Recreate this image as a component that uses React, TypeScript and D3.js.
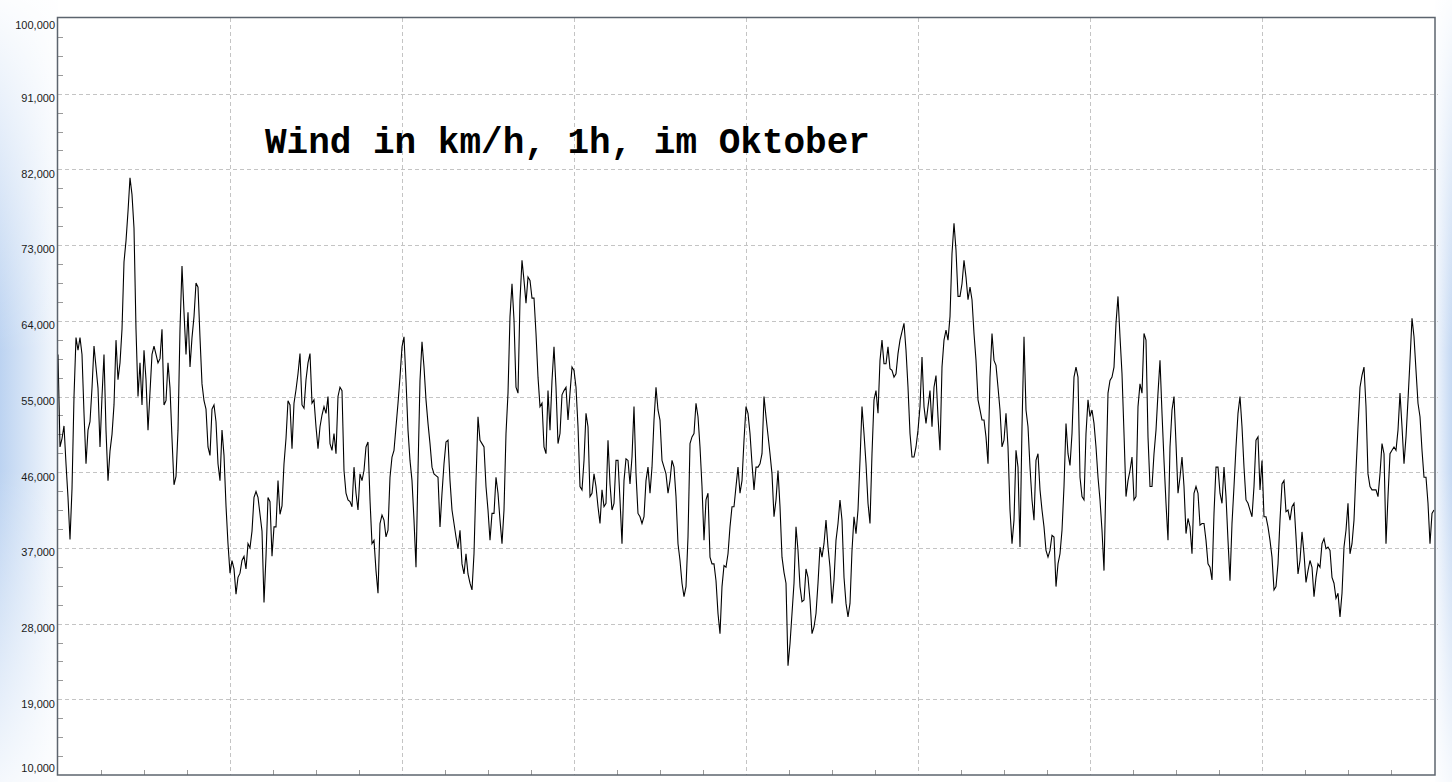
import React from "react";
import * as d3 from "d3";

// Wind speed readings (in thousands, as shown on the axis)
const seg1 = [60,49,50,51.5,47,43,38,44,55,62,60.5,62,60,53,47,51,52,56,61,58.5,56,49,55,60,51,45,48.5,50.5,54,61.7,57,59,63,71,73.5,77,81,79,75,63,55,59,54,60.5,57,51,55.5,60,61,60,59,59.5,63,54,54.5,59,56,50,44.5,45.5,51,63,70.5,65,60,65,58.5,62,64.5,68.5,68,62,56.5,54.5,53.5,49,48,53.5,54,52,47,45,51,48,42,37.5,34,35.5,34.5,31.5,33.5,34,35.5,36,34.5,37.5,37,39,43,43.7,43,41,39,30.5,36,43,42.5,36,39.5,39.5,45,41,42,47,50,54.5,54];
const seg2 = [48.8,54.2,55.8,57.7,60.1,54,53.6,57,59,60.1,54.2,54.6,51.4,48.8,51.4,52.8,53.8,53,55,49.4,48.6,50.6,48.2,55,56.1,55.7,46.2,43.5,42.7,42.5,41.9,46.6,43.5,41.5,45.8,45,46.2,49,49.6,42.7,37.5,37.9,34.3,31.6,39.9,40.9,40.3,38.3,39.1,45.4,47.8,48.6,51.4,54.2,57.3,60.9,62.1,56.9,51,47.4,45,40.3,34.7,46.2,56.9,61.5,58.5,54.6,51.8,49.4,46.6,45.8,45.6,45.4,39.5,43.5,47,49.6,49.8,45,41.5,39.9,38.3,36.9,39.1,35.1,33.9,36.3,33.9,32.8,32,36.3,45,52.6,49.8,49.4,49,44.3,41.5,37.9,41.1,41.1,45.4,43.5,40.3,37.5,41.5,50.6,55.4,64.5,68.4,64.1,56.1,55.4,66.5];
const seg3 = [71.2,68.8,66.1,69.2,68.8,66.7,66.7,62.5,57.3,53.8,54.2,49,48.2,55.7,51,56.9,60.9,56.1,49.4,50.6,55.2,55.7,56.1,52.2,55.4,58.5,58.1,56.1,51.4,44.3,43.9,47.4,53,51.4,43.1,43.5,45.8,44.3,41.9,39.9,43.9,41.9,42.3,49.8,44.6,41.5,42.3,47.4,47.4,42.7,37.5,45,47.6,47.4,44.6,47.8,53.8,45.8,41.1,40.7,39.9,40.7,45,46.6,43.5,46.6,52.2,56.1,53.4,52.2,47.4,46.6,45.8,43.5,45,47.4,46.6,43.1,37.5,35.5,32.8,31.2,32.4,38.3,49.4,50.2,50.6,54.2,52.6,49,44.3,37.9,42.7,43.5,35.9,35.1,35.1,33.1,29.2,26.8,32.4,34.9,34.7,36.3,39.5,41.9,41.9,44.3,46.6,43.5,45,49.8,53.8,53,50.6];
const seg4 = [47,43.9,46.6,46.6,47,48.2,55,52.6,50.4,48.2,45.8,40.7,42.7,46.2,41.9,35.9,34.1,32.8,23,25.6,29.2,32.8,39.5,36.7,32.4,30.6,30.8,34.5,33.5,30.8,26.8,27.6,29.2,32.8,37.1,35.9,37.5,40.3,37.1,34.7,30.4,33.2,37.9,39.9,42.7,40.3,33.5,30.4,28.8,30.4,36.7,40.7,38.7,41.5,47.4,53.8,50.6,47,42.3,39.9,48.2,54.6,55.7,53,59.3,61.7,58.9,58.9,60.9,58.3,58.1,57.3,57.7,60.1,61.7,62.7,63.7,60.5,56.1,50.6,47.8,47.8,49,51,53.8,59.7,53.8,51.8,53.8,55.7,51.4,56.1,57.5,52.6,48.6,58.5,61.7,62.9,61.7,64.5,72,75.6,72.4,66.9,66.9,68.4,71.2,69.2,66.5,68,66.5,62.5,59.3,54.6,53.4];
const seg5 = [52.2,52.2,50.2,47,57.3,62.5,59.3,58.7,56.1,53.4,49,49.8,53,49,41.5,37.5,40.3,48.6,46.6,37.1,51.4,62.1,53.4,51.4,46.6,42.7,40.3,47.4,48.2,43.9,41.5,39.5,36.7,35.9,36.7,38.5,38.3,32.4,35.1,36.3,39.1,44.3,51.8,48.2,46.8,50.6,57.3,58.5,57.3,45.4,43.1,42.7,50.6,54.6,52.6,53.4,51.8,49,45.4,42.7,39.1,34.3,45.4,55.4,56.9,57.3,58.5,63.7,66.9,62.1,57.7,50.6,43.1,45,46.2,47.8,42.7,43.1,53.8,56.5,55.4,62.5,61.7,50.2,44.3,44.3,48.2,51,55.4,59.3,53,47.4,42.3,37.9,49,53.4,55,49.4,43.5,45.4,47.8,44.3,38.7,40.5,39.5,36.3,43.5,44.3,43.5,39.7,39.9,39.9,37.9,35.1,34.7];
const seg6 = [33.2,41.1,46.6,46.6,43.5,42.3,46.6,43.1,37.9,33.1,39.9,44.3,49,53,55,51.4,46.6,42.7,42.3,41.5,40.7,44.3,49.8,50.2,43.9,47.4,40.7,40.7,39.5,37.9,35.9,32,32.4,35.1,40.3,44.6,45,41.3,41.5,40.3,41.9,42.3,38.3,33.9,35.5,38.9,36.3,32.9,34.3,35.5,34.7,31.2,33.5,35.1,34.7,37.5,38.1,36.9,37.1,36.7,33.5,32.8,31,31.6,28.8,31.6,37.1,39.1,42.3,36.3,37.5,40.3,46.2,51.4,56.1,57.5,58.5,53.8,45.8,44.3,43.9,43.9,43.9,43.1,45.8,49.4,48.2,37.5,43.1,48.2,48.6,49,48.6,51,55.4,51.4,47,50.2,54.6,59.3,64.3,62.1,58.1,54.2,52.6,48.6,45.4,45.4,42.3,37.5,41.1,41.5];

const windValues = [...seg1, ...seg2, ...seg3, ...seg4, ...seg5, ...seg6].map((v) => v * 1000);

const yTicks = [10000, 19000, 28000, 37000, 46000, 55000, 64000, 73000, 82000, 91000, 100000];
const yMinorPerMajor = 4;
const xDivisions = 32;
const xMajorEvery = 4;
const title = "Wind in km/h, 1h, im Oktober";

const W = 1452;
const H = 782;

export default function App() {
  const left = 58, right = 1435, top = 18, bottom = 775;
  const x = d3.scaleLinear().domain([0, windValues.length - 1]).range([left, right - 1]);
  const y = d3.scaleLinear().domain([10000, 100000]).range([bottom, top]);
  const xDiv = d3.scaleLinear().domain([0, xDivisions]).range([left, right - 1]);

  const line = d3
    .line<number>()
    .x((_, i) => x(i))
    .y((d) => y(d))
    .curve(d3.curveLinear);

  const fmt = d3.format(",");
  const step = yTicks[1] - yTicks[0];
  const minorY: number[] = [];
  for (let t = yTicks[0]; t < yTicks[yTicks.length - 1]; t += step / yMinorPerMajor) {
    if ((t - yTicks[0]) % step !== 0) minorY.push(t);
  }
  const divs = d3.range(1, xDivisions);

  return (
    <svg
      width={W}
      height={H}
      style={{ position: "absolute", left: 0, top: 0, display: "block" }}
    >
      <defs>
        <linearGradient id="lstrip" x1="0" x2="1" y1="0" y2="0">
          <stop offset="0%" stopColor="#bcd3f1" stopOpacity={1} />
          <stop offset="100%" stopColor="#bcd3f1" stopOpacity={0.15} />
        </linearGradient>
        <linearGradient id="rstrip" x1="0" x2="1" y1="0" y2="0">
          <stop offset="0%" stopColor="#c4d8f3" stopOpacity={0.2} />
          <stop offset="100%" stopColor="#c4d8f3" stopOpacity={1} />
        </linearGradient>
        <linearGradient id="vfade" x1="0" x2="0" y1="0" y2="1">
          <stop offset="0%" stopColor="#ffffff" stopOpacity={0.95} />
          <stop offset="45%" stopColor="#ffffff" stopOpacity={0} />
          <stop offset="60%" stopColor="#ffffff" stopOpacity={0} />
          <stop offset="100%" stopColor="#ffffff" stopOpacity={0.85} />
        </linearGradient>
      </defs>
      <rect x={0} y={0} width={W} height={H} fill="#ffffff" />
      <rect x={0} y={0} width={left} height={H} fill="url(#lstrip)" />
      <rect x={right} y={0} width={W - right} height={H} fill="url(#rstrip)" />
      <rect x={0} y={0} width={W} height={H} fill="url(#vfade)" />

      <rect x={left} y={top} width={right - left} height={bottom - top} fill="#ffffff" />

      {/* horizontal gridlines */}
      {yTicks.slice(1, -1).map((t) => (
        <line
          key={"gy" + t}
          x1={left}
          x2={right + 3}
          y1={Math.round(y(t)) + 0.5}
          y2={Math.round(y(t)) + 0.5}
          stroke="#c4c4c4"
          strokeDasharray="4,3"
          strokeWidth={1}
        />
      ))}
      {/* vertical gridlines */}
      {divs
        .filter((d) => d % xMajorEvery === 0)
        .map((d) => (
          <line
            key={"gx" + d}
            x1={Math.round(xDiv(d)) + 0.5}
            x2={Math.round(xDiv(d)) + 0.5}
            y1={top}
            y2={bottom}
            stroke="#c4c4c4"
            strokeDasharray="4,3"
            strokeWidth={1}
          />
        ))}
      {/* minor y ticks */}
      {minorY.map((t) => (
        <line
          key={"my" + t}
          x1={left}
          x2={left + 5}
          y1={Math.round(y(t)) + 0.5}
          y2={Math.round(y(t)) + 0.5}
          stroke="#9a9a9a"
        />
      ))}
      {/* minor x ticks */}
      {divs
        .filter((d) => d % xMajorEvery !== 0)
        .map((d) => (
          <line
            key={"mx" + d}
            x1={Math.round(xDiv(d)) + 0.5}
            x2={Math.round(xDiv(d)) + 0.5}
            y1={bottom - 5}
            y2={bottom}
            stroke="#9a9a9a"
          />
        ))}

      <path d={line(windValues) || ""} fill="none" stroke="#000000" strokeWidth={1.1} />

      <rect
        x={left - 0.5}
        y={top - 0.5}
        width={right - left + 0.5}
        height={bottom - top + 0.5}
        fill="none"
        stroke="#5c646e"
        strokeWidth={1.5}
      />

      {yTicks.map((t) => {
        const ty = Math.max(top + 7, Math.min(bottom - 7, y(t) + 4.5));
        return (
          <text
            key={"ly" + t}
            x={left - 3}
            y={ty}
            dy="0.35em"
            textAnchor="end"
            fontFamily="'Liberation Sans', Arial, sans-serif"
            fontSize={11}
            fill="#1a1a1a"
          >
            {fmt(t)}
          </text>
        );
      })}

      <text
        x={265}
        y={153}
        fontFamily="'Liberation Mono', 'Courier New', monospace"
        fontWeight="bold"
        fontSize={36}
        fill="#000000"
      >
        {title}
      </text>
    </svg>
  );
}
